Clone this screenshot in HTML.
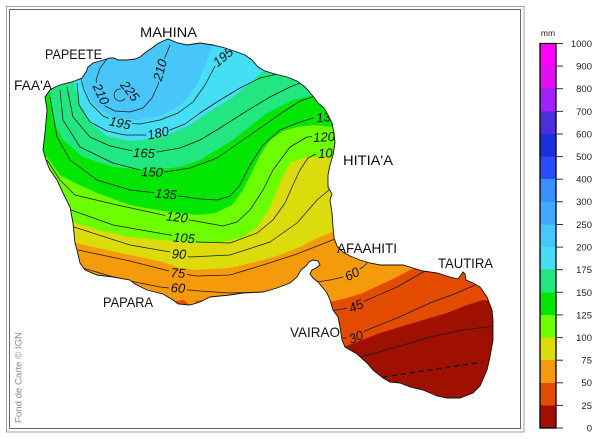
<!DOCTYPE html>
<html><head><meta charset="utf-8"><style>
html,body{margin:0;padding:0;background:#fff;}
svg{display:block;}
</style></head><body>
<svg width="600" height="439" viewBox="0 0 600 439" xmlns="http://www.w3.org/2000/svg" font-family="Liberation Sans, Arial, sans-serif">
<defs>
<clipPath id="isl"><path id="islp" d="M45,97 L50,90 55,87 63,84 72,82 82,78 86,72 88,67 93,63 100,61 110,58 114,58 118,60 127,60 135,59 140,57 146,52 152,48 157,44 163,41 168,39 173,41 178,43 187,45 200,43 213,45 225,48 237,52 245,55 252,60 258,67 265,71 275,74 287,77 297,81 305,87 312,95 318,103 324,108 328,115 332,123 334,133 335,143 333,155 330,165 328,175 328,187 332,194 330,200 332,213 333,227 334,238 337,246 343,252 350,256 360,260 370,263 380,265 390,265 403,265 413,268 423,271 437,273 450,277 458,279 461,275 463,272 465,274 466,280 473,283 480,287 487,297 492,310 493,320 493,340 490,357 487,370 480,386 473,393 460,398 447,398 437,396 423,390 410,387 400,383 390,382 383,378 373,370 367,363 357,354 345,347 342,340 340,327 338,317 333,310 330,300 327,293 323,288 318,282 313,278 310,274 312,270 316,268 320,265 318,261 313,260 309,262 306,266 301,270 297,277 290,283 277,288 263,292 243,293 230,295 210,297 200,302 190,305 178,304 173,300 163,294 147,290 135,284 130,280 113,277 97,275 85,270 80,263 77,250 75,243 73,223 70,207 63,193 57,180 50,170 47,163 43,150 45,133 47,110 Z"/></clipPath>
<mask id="lm" maskUnits="userSpaceOnUse" x="0" y="0" width="600" height="439">
<rect width="600" height="439" fill="#fff"/>
<g fill="#000">
<rect x="-12" y="-6" width="24" height="12" transform="translate(130,91) rotate(52)"/>
<rect x="-12" y="-6" width="24" height="12" transform="translate(101,94) rotate(65)"/>
<rect x="-12" y="-6" width="24" height="12" transform="translate(160,70) rotate(-75)"/>
<rect x="-12" y="-6" width="24" height="12" transform="translate(120,123) rotate(12)"/>
<rect x="-12" y="-6" width="24" height="12" transform="translate(223,57) rotate(-40)"/>
<rect x="-12" y="-6" width="24" height="12" transform="translate(158,133) rotate(-12)"/>
<rect x="-12" y="-6" width="24" height="12" transform="translate(144,153) rotate(3)"/>
<rect x="-12" y="-6" width="24" height="12" transform="translate(152,172) rotate(2)"/>
<rect x="-12" y="-6" width="24" height="12" transform="translate(166,194) rotate(5)"/>
<rect x="-12" y="-6" width="24" height="12" transform="translate(177,217) rotate(6)"/>
<rect x="-12" y="-6" width="24" height="12" transform="translate(184,238) rotate(5)"/>
<rect x="-9" y="-6" width="18" height="12" transform="translate(179,254) rotate(3)"/>
<rect x="-9" y="-6" width="18" height="12" transform="translate(178,273) rotate(3)"/>
<rect x="-9" y="-6" width="18" height="12" transform="translate(178,288) rotate(3)"/>
<rect x="-12" y="-6" width="24" height="12" transform="translate(326,117) rotate(-5)"/>
<rect x="-12" y="-6" width="24" height="12" transform="translate(324,137) rotate(-3)"/>
<rect x="-12" y="-6" width="24" height="12" transform="translate(328,153) rotate(-3)"/>
<rect x="-9" y="-6" width="18" height="12" transform="translate(352,274) rotate(-28)"/>
<rect x="-9" y="-6" width="18" height="12" transform="translate(356,306) rotate(-25)"/>
<rect x="-9" y="-6" width="18" height="12" transform="translate(356,337) rotate(-22)"/>
</g>
</mask>
</defs>

<!-- frame -->
<rect x="6.5" y="6.5" width="517.5" height="425.5" fill="none" stroke="#a0a0a0" stroke-width="1"/>
<rect x="9.5" y="9.5" width="511" height="419" fill="none" stroke="#666" stroke-width="1"/>

<g clip-path="url(#isl)">
<rect width="600" height="439" fill="#a01000"/>
<polygon fill="#e24b00" points="0,0 600,0 600,300 500,302 483,300 467,305 447,313 413,323 380,333 357,342 343,347 330,352 0,352"/>
<polygon fill="#f59a0b" points="0,0 600,0 600,262 420,266 410,270 397,277 380,285 363,293 347,298 330,302 326,303 300,340 0,340"/>
<polygon fill="#e24b00" points="176,301 184,300 188,304 183,307 176,306"/>
<polygon fill="#e24b00" points="195,301 202,300 204,304 197,305"/>
<polygon fill="#dcdb0b" points="0,0 600,0 600,220 345,225 332,232 320,237 300,247 280,255 263,260 230,268 197,270 180,268 163,262 130,255 97,248 77,243 60,240 0,240"/>
<polygon fill="#6dfe00" points="0,0 600,0 600,157 340,157 307,157 290,163 280,183 270,208 257,227 243,237 223,242 197,243 163,240 130,237 97,230 73,222 60,218 0,218"/>
<polygon fill="#00e600" points="0,0 600,0 600,127 333,127 313,125 297,127 283,131 270,140 260,155 252,172 243,190 232,205 215,213 197,215 163,211 130,205 97,193 73,182 60,175 47,157 0,157"/>
<polygon fill="#22e680" points="0,0 600,0 600,100 322,100 310,96 293,100 267,113 233,140 200,160 180,167 147,170 113,167 83,157 63,140 53,120 50,90 0,90"/>
<polygon fill="#45def5" points="0,0 600,0 600,68 268,68 262,72 250,83 233,97 215,108 200,118 190,125 170,134 150,139 130,141 107,136 90,123 80,105 76,90 74,80 0,80"/>
<polygon fill="#48c6fa" points="0,0 600,0 600,40 215,40 212,47 205,65 197,85 183,103 163,115 137,120 113,117 97,108 87,93 83,80 82,70 0,70"/>

<g mask="url(#lm)" fill="none" stroke="#1a1a1a" stroke-width="0.75" stroke-linejoin="round">
<path d="M123.5,90 A6,6 0 1,0 125,98.5"/>
<polyline points="107,59 100,68 96,80 99,95 105,106 115,111 130,112 143,108 152,98 158,85 162,65 170,45"/>
<polyline points="80,75 84,90 90,103 103,116 120,123 140,124 160,120 178,113 193,102 205,85 214,68 222,57 232,51"/>
<polyline points="77,83 79,105 90,122 107,131 125,135 147,135 170,130 185,124 200,113 220,100 240,88 260,78 282,73"/>
<polyline points="67,87 73,117 90,137 110,146 133,151 157,152 180,148 200,140 220,128 245,112 270,97 290,87 300,83"/>
<polyline points="60,90 63,120 80,147 113,163 140,170 165,172 190,168 217,158 250,135 283,112 300,101 315,96"/>
<polyline points="50,97 57,137 70,160 97,180 130,190 166,194 200,199 217,200 230,196 240,185 250,165 263,145 280,130 297,123 313,118 335,114"/>
<polyline points="47,160 60,180 75,195 117,205 163,215 190,220 223,226 237,222 250,210 263,190 273,170 290,147 307,137 336,135"/>
<polyline points="71,210 113,225 170,235 197,242 230,243 257,233 273,220 285,203 293,185 300,170 308,158 318,153 336,151"/>
<polyline points="74,227 130,245 170,252 190,257 230,255 270,242 297,223 317,200 335,185"/>
<polyline points="78,250 130,261 165,270 178,273 197,276 230,275 263,265 297,254 335,239"/>
<polyline points="83,268 110,276 130,281 160,287 178,289 200,291 230,293 263,292 285,289"/>
<polyline points="310,283 330,280 343,277 352,274 363,267 370,260"/>
<polyline points="330,311 348,308 356,306 367,300 397,287 425,271"/>
<polyline points="338,338 348,338 356,336 367,330 397,318 430,303 457,293 475,285"/>
<polyline points="345,360 360,357 397,347 430,337 463,330 487,327 497,326"/>
</g>
<line x1="383" y1="377" x2="482" y2="362" stroke="#111" stroke-width="1.4" stroke-dasharray="5,4"/>

<g font-size="13" font-style="italic" fill="#111" text-anchor="middle">
<text transform="translate(130,91) rotate(52)" dy="4.5">225</text>
<text transform="translate(101,94) rotate(65)" dy="4.5">210</text>
<text transform="translate(160,70) rotate(-75)" dy="4.5">210</text>
<text transform="translate(120,123) rotate(12)" dy="4.5">195</text>
<text transform="translate(223,57) rotate(-40)" dy="4.5">195</text>
<text transform="translate(158,133) rotate(-12)" dy="4.5">180</text>
<text transform="translate(144,153) rotate(3)" dy="4.5">165</text>
<text transform="translate(152,172) rotate(2)" dy="4.5">150</text>
<text transform="translate(166,194) rotate(5)" dy="4.5">135</text>
<text transform="translate(177,217) rotate(6)" dy="4.5">120</text>
<text transform="translate(184,238) rotate(5)" dy="4.5">105</text>
<text transform="translate(179,254) rotate(3)" dy="4.5">90</text>
<text transform="translate(178,273) rotate(3)" dy="4.5">75</text>
<text transform="translate(178,288) rotate(3)" dy="4.5">60</text>
<text transform="translate(327,117) rotate(-5)" dy="4.5">135</text>
<text transform="translate(324,137) rotate(-3)" dy="4.5">120</text>
<text transform="translate(329,153) rotate(-3)" dy="4.5">105</text>
<text transform="translate(352,274) rotate(-28)" dy="4.5">60</text>
<text transform="translate(356,306) rotate(-25)" dy="4.5">45</text>
<text transform="translate(356,337) rotate(-22)" dy="4.5">30</text>
</g>
</g>
<use href="#islp" fill="none" stroke="#111" stroke-width="0.9"/>

<!-- place names -->
<g font-size="14" fill="#111">
<text x="140" y="37" textLength="57" lengthAdjust="spacingAndGlyphs">MAHINA</text>
<text x="45" y="59" textLength="57" lengthAdjust="spacingAndGlyphs">PAPEETE</text>
<text x="14" y="90" textLength="38" lengthAdjust="spacingAndGlyphs">FAA'A</text>
<text x="343" y="165" textLength="50" lengthAdjust="spacingAndGlyphs">HITIA'A</text>
<text x="337" y="253" textLength="60" lengthAdjust="spacingAndGlyphs">AFAAHITI</text>
<text x="438" y="268" textLength="55" lengthAdjust="spacingAndGlyphs">TAUTIRA</text>
<text x="290" y="337" textLength="50" lengthAdjust="spacingAndGlyphs">VAIRAO</text>
<text x="103" y="307" textLength="50" lengthAdjust="spacingAndGlyphs">PAPARA</text>
</g>
<text transform="translate(21.5,423) rotate(-90)" font-size="9" fill="#8a8a8a" textLength="91" lengthAdjust="spacingAndGlyphs">Fond de Carte © IGN</text>

<!-- colorbar -->
<g shape-rendering="crispEdges">
<rect x="540" y="43.5" width="16" height="22.62" fill="#ff00ff"/>
<rect x="540" y="66.1" width="16" height="22.62" fill="#e010f0"/>
<rect x="540" y="88.7" width="16" height="22.62" fill="#a020ff"/>
<rect x="540" y="111.4" width="16" height="22.62" fill="#4a30d8"/>
<rect x="540" y="134.0" width="16" height="22.62" fill="#1a30e0"/>
<rect x="540" y="156.6" width="16" height="22.62" fill="#2a4cff"/>
<rect x="540" y="179.2" width="16" height="22.62" fill="#3a90ff"/>
<rect x="540" y="201.8" width="16" height="22.62" fill="#42aaff"/>
<rect x="540" y="224.5" width="16" height="22.62" fill="#48c6ff"/>
<rect x="540" y="247.1" width="16" height="22.62" fill="#45def5"/>
<rect x="540" y="269.7" width="16" height="22.62" fill="#22e680"/>
<rect x="540" y="292.3" width="16" height="22.62" fill="#00e600"/>
<rect x="540" y="314.9" width="16" height="22.62" fill="#6dff00"/>
<rect x="540" y="337.6" width="16" height="22.62" fill="#dcdb0b"/>
<rect x="540" y="360.2" width="16" height="22.62" fill="#f59a0b"/>
<rect x="540" y="382.8" width="16" height="22.62" fill="#e24b00"/>
<rect x="540" y="405.4" width="16" height="22.6" fill="#a01000"/>
</g>
<rect x="540" y="43.5" width="16" height="384.5" fill="none" stroke="#000" stroke-width="1.3"/>
<g stroke="#333" stroke-width="1">
<line x1="556" y1="43.5" x2="563" y2="43.5"/>
<line x1="556" y1="66.1" x2="563" y2="66.1"/>
<line x1="556" y1="88.7" x2="563" y2="88.7"/>
<line x1="556" y1="111.4" x2="563" y2="111.4"/>
<line x1="556" y1="134.0" x2="563" y2="134.0"/>
<line x1="556" y1="156.6" x2="563" y2="156.6"/>
<line x1="556" y1="179.2" x2="563" y2="179.2"/>
<line x1="556" y1="201.8" x2="563" y2="201.8"/>
<line x1="556" y1="224.5" x2="563" y2="224.5"/>
<line x1="556" y1="247.1" x2="563" y2="247.1"/>
<line x1="556" y1="269.7" x2="563" y2="269.7"/>
<line x1="556" y1="292.3" x2="563" y2="292.3"/>
<line x1="556" y1="314.9" x2="563" y2="314.9"/>
<line x1="556" y1="337.6" x2="563" y2="337.6"/>
<line x1="556" y1="360.2" x2="563" y2="360.2"/>
<line x1="556" y1="382.8" x2="563" y2="382.8"/>
<line x1="556" y1="405.4" x2="563" y2="405.4"/>
<line x1="556" y1="428" x2="563" y2="428"/>
</g>
<g font-size="9.5" fill="#222" text-anchor="end">
<text x="592" y="47">1000</text>
<text x="592" y="69.5">900</text>
<text x="592" y="92">800</text>
<text x="592" y="115">700</text>
<text x="592" y="137.5">600</text>
<text x="592" y="160">500</text>
<text x="592" y="182.5">400</text>
<text x="592" y="205">300</text>
<text x="592" y="228">250</text>
<text x="592" y="250.5">200</text>
<text x="592" y="273">175</text>
<text x="592" y="296">150</text>
<text x="592" y="318.5">125</text>
<text x="592" y="341">100</text>
<text x="592" y="363.5">75</text>
<text x="592" y="386">50</text>
<text x="592" y="409">25</text>
<text x="592" y="431.5">0</text>
</g>
<text x="548" y="36" font-size="8.5" fill="#222" text-anchor="middle">mm</text>
</svg>
</body></html>
